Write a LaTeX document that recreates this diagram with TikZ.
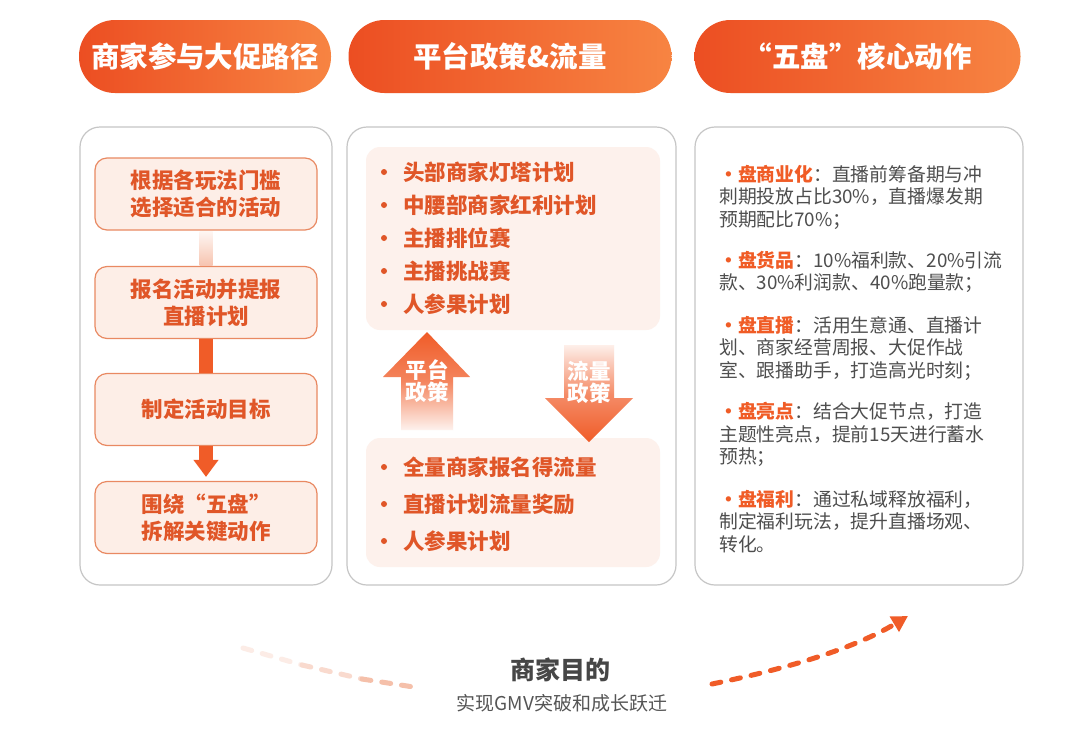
\documentclass[tikz,border=0pt]{standalone}
\usepackage{fontspec}
\setmainfont{Noto Sans CJK SC}
\usetikzlibrary{arrows.meta,calc}
\definecolor{orgD}{RGB}{236,78,34}
\definecolor{orgL}{RGB}{247,132,66}
\definecolor{org}{RGB}{240,92,40}
\definecolor{txtO}{RGB}{224,86,40}
\definecolor{hdO}{RGB}{240,92,38}
\definecolor{boxF}{RGB}{253,238,231}
\definecolor{boxB}{RGB}{233,137,98}
\definecolor{barB}{RGB}{247,196,176}
\definecolor{pinkA}{RGB}{253,241,236}
\definecolor{grayT}{RGB}{78,78,78}
\definecolor{goalC}{RGB}{70,70,70}
\definecolor{subC}{RGB}{85,85,85}
\definecolor{panelB}{RGB}{198,198,198}
\definecolor{fadeA}{RGB}{252,236,230}
\definecolor{fadeB}{RGB}{249,218,206}
\definecolor{fadeC}{RGB}{245,192,170}
\newcommand\mkhd[1]{{\color{hdO}\bfseries #1}}
\tikzset{
  hdr/.style={shade, left color=orgD, right color=orgL, rounded corners=36pt,
    minimum height=73pt, text=white, font=\fontsize{28.5}{32}\selectfont\bfseries, inner sep=0pt},
  panel/.style={draw=panelB, line width=1.2pt, fill=white, rounded corners=20pt,
    minimum height=458pt, inner sep=0pt},
  stepbox/.style={draw=boxB, line width=1.2pt, fill=boxF, rounded corners=12pt,
    minimum width=222pt, minimum height=72pt, text=txtO,
    font=\fontsize{21.5}{27}\selectfont\bfseries, align=center, inner sep=0pt},
  parea/.style={fill=pinkA, rounded corners=14pt, minimum width=294pt, inner sep=0pt},
  li/.style={anchor=west, text=txtO, font=\fontsize{21.5}{24}\selectfont\bfseries, inner sep=0pt},
  bul/.style={fill=txtO},
  pol/.style={text=white, font=\fontsize{21.5}{22}\selectfont\bfseries, align=center, inner sep=0pt},
  rt/.style={anchor=north west, align=left, text=grayT, font=\fontsize{18.8}{22.5}\selectfont, inner sep=0pt},
  dsh/.style={line width=5pt, line cap=round, dash pattern=on 9pt off 11pt},
}
\begin{document}
\begin{tikzpicture}[x=1pt,y=-1pt]
\useasboundingbox[fill=white] (0,0) rectangle (1080,737);
% headers
\node[hdr, minimum width=252pt] (h1) at (205,56.5) {商家参与大促路径};
\node[hdr, minimum width=323pt] (h2) at (510,56.5) {平台政策\&流量};
\node[hdr, minimum width=326pt] (h3) at (857.5,56.5) {“五盘”核心动作};
% panels
\node[panel, minimum width=252pt] (p1) at (206,356) {};
\node[panel, minimum width=329pt] (p2) at (511.5,356) {};
\node[panel, minimum width=328pt] (p3) at (859,356) {};
% left column
\node[stepbox] (b1) at (206,194) {根据各玩法门槛\\选择适合的活动};
\node[stepbox] (b2) at (206,302.5) {报名活动并提报\\直播计划};
\node[stepbox] (b3) at (206,409.5) {制定活动目标};
\node[stepbox] (b4) at (206,517.5) {围绕“五盘”\\拆解关键动作};
\shade[top color=boxF!50, bottom color=barB]
  ($(b1.south)+(-6.5,0.6)$) rectangle ($(b2.north)+(6.5,-0.6)$);
\draw[line width=14pt, org] (b2.south) -- (b3.north);
\draw[line width=14pt, org, -{Triangle[width=24pt,length=17pt]}, shorten >=4pt] (b3.south) -- (b4.north);
% middle column
\node[parea, minimum height=183pt] (mt) at (513,238.5) {};
\node[parea, minimum height=129pt] (mb) at (513,502.5) {};
\fill[bul] (384,172) circle (3pt); \node[li] (t1) at (403,172) {头部商家灯塔计划};
\fill[bul] (384,205) circle (3pt); \node[li] (t2) at (403,205) {中腰部商家红利计划};
\fill[bul] (384,238) circle (3pt); \node[li] (t3) at (403,238) {主播排位赛};
\fill[bul] (384,271) circle (3pt); \node[li] (t4) at (403,271) {主播挑战赛};
\fill[bul] (384,304) circle (3pt); \node[li] (t5) at (403,304) {人参果计划};
\fill[bul] (384,467) circle (3pt); \node[li] (u1) at (403,467) {全量商家报名得流量};
\fill[bul] (384,504) circle (3pt); \node[li] (u2) at (403,504) {直播计划流量奖励};
\fill[bul] (384,541) circle (3pt); \node[li] (u3) at (403,541) {人参果计划};
% block arrows
\shade[top color=org, bottom color=org!8, middle color=org!75]
  (427,332) -- (470,377) -- (453,377) -- (453,430) -- (401,430) -- (401,377) -- (383,377) -- cycle;
\shade[top color=org!10, bottom color=org, middle color=org!70]
  (564,345) -- (614,345) -- (614,398) -- (633,398) -- (589,442) -- (545,398) -- (564,398) -- cycle;
\node[pol] (ap) at (427,381) {平台\\政策};
\node[pol] (fp) at (589,382) {流量\\政策};
% right column
\node[rt] (r1) at (719,165) {\mkhd{•盘商业化}：直播前筹备期与冲\\刺期投放占比30\%，直播爆发期\\预期配比70\%；};
\node[rt] (r2) at (719,251) {\mkhd{•盘货品}：10\%福利款、20\%引流\\款、30\%利润款、40\%跑量款；};
\node[rt] (r3) at (719,316) {\mkhd{•盘直播}：活用生意通、直播计\\划、商家经营周报、大促作战\\室、跟播助手，打造高光时刻；};
\node[rt] (r4) at (719,402) {\mkhd{•盘亮点}：结合大促节点，打造\\主题性亮点，提前15天进行蓄水\\预热；};
\node[rt] (r5) at (719,490) {\mkhd{•盘福利}：通过私域释放福利，\\制定福利玩法，提升直播场观、\\转化。};
% bottom
\node[text=goalC, font=\fontsize{25}{28}\selectfont\bfseries, inner sep=0pt] (goal) at (560,670) {商家目的};
\node[text=subC, font=\fontsize{19}{22}\selectfont, inner sep=0pt] (goalsub) at (562,703) {实现GMV突破和成长跃迁};
\coordinate (c0) at (243,648);
\coordinate (c1) at (302,665);
\coordinate (c2) at (362,679);
\coordinate (c3) at (420,688);
\draw[dsh, color=fadeA] (c0) -- (c1);
\draw[dsh, color=fadeB] (c1) -- (c2);
\draw[dsh, color=fadeC] (c2) -- (c3);
\coordinate (d0) at (712,684);
\coordinate (d1) at (908,616);
\draw[dsh, color=org, -{Triangle[width=17pt,length=16pt]}] (d0) .. controls (790,668) and (855,648) .. (d1);
\end{tikzpicture}
\end{document}
